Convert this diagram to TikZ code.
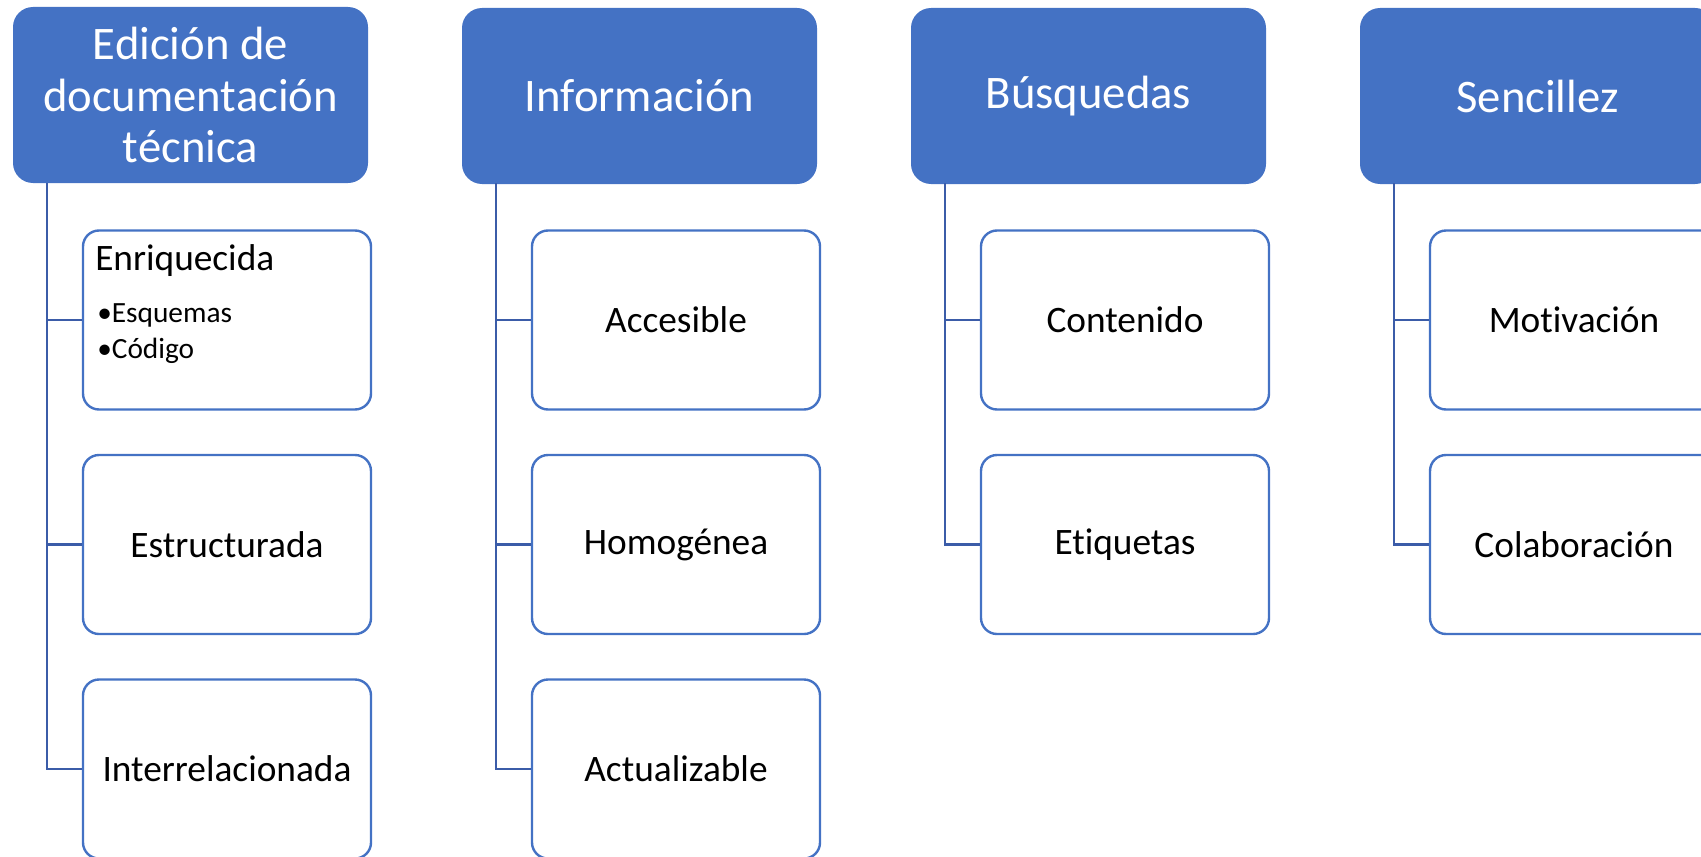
\documentclass[tikz,border=0pt]{standalone}
\usepackage{fontspec}
\setmainfont[RawFeature={-liga;-clig;-calt;-dlig}]{Carlito}
\definecolor{hdrblue}{RGB}{68,114,196}
\definecolor{connblue}{RGB}{59,92,168}
\begin{document}
\begin{tikzpicture}[x=0.75pt,y=-0.75pt,
 hdr/.style={draw=none, fill=hdrblue, rounded corners=15pt, minimum width=266.25pt, minimum height=132pt, text=white, align=center, font=\fontsize{35}{38.5}\selectfont, inner sep=0pt},
 kid/.style={draw=hdrblue, line width=1.8pt, fill=white, rounded corners=12pt, minimum width=216pt, minimum height=134.25pt, align=center, font=\fontsize{28}{33}\selectfont, inner sep=0pt},
 conn/.style={draw=connblue, line width=1.7pt},
 lbl/.style={anchor=base west, inner sep=0pt}]
\useasboundingbox (0,0) rectangle (1701,856);
\clip (0,0) rectangle (1701,856);
% headers
\node[hdr] (h1) at (190.5,95) {Edición de\\documentación\\técnica};
\node[hdr] (h2) at (639.5,96) {Información};
\node[hdr] (h3) at (1088.5,96) {Búsquedas};
\node[hdr] (h4) at (1537.5,96) {Sencillez};
% column 1
\node[kid] (c1a) at (227,320) {};
\node[lbl, font=\fontsize{28}{33}\selectfont] (t1a) at (95,270) {Enriquecida};
\node[lbl, font=\fontsize{22}{26}\selectfont] (t1b) at (97,322) {•Esquemas};
\node[lbl, font=\fontsize{22}{26}\selectfont] (t1c) at (97,358) {•Código};
\node[kid] (c1b) at (227,544.5) {Estructurada};
\node[kid] (c1c) at (227,769) {Interrelacionada};
% column 2
\node[kid] (c2a) at (676,320) {Accesible};
\node[kid] (c2b) at (676,544.5) {Homogénea};
\node[kid] (c2c) at (676,769) {Actualizable};
% column 3
\node[kid] (c3a) at (1125,320) {Contenido};
\node[kid] (c3b) at (1125,544.5) {Etiquetas};
% column 4
\node[kid] (c4a) at (1574,320) {Motivación};
\node[kid] (c4b) at (1574,544.5) {Colaboración};
% connectors
\coordinate (v1) at (47,183);
\coordinate (v2) at (496,183);
\coordinate (v3) at (945,183);
\coordinate (v4) at (1394,183);
\draw[conn] (v1) |- (c1c.west);
\draw[conn] (v1 |- c1a.west) -- (c1a.west);
\draw[conn] (v1 |- c1b.west) -- (c1b.west);
\draw[conn] (v2) |- (c2c.west);
\draw[conn] (v2 |- c2a.west) -- (c2a.west);
\draw[conn] (v2 |- c2b.west) -- (c2b.west);
\draw[conn] (v3) |- (c3b.west);
\draw[conn] (v3 |- c3a.west) -- (c3a.west);
\draw[conn] (v4) |- (c4b.west);
\draw[conn] (v4 |- c4a.west) -- (c4a.west);
\end{tikzpicture}
\end{document}
